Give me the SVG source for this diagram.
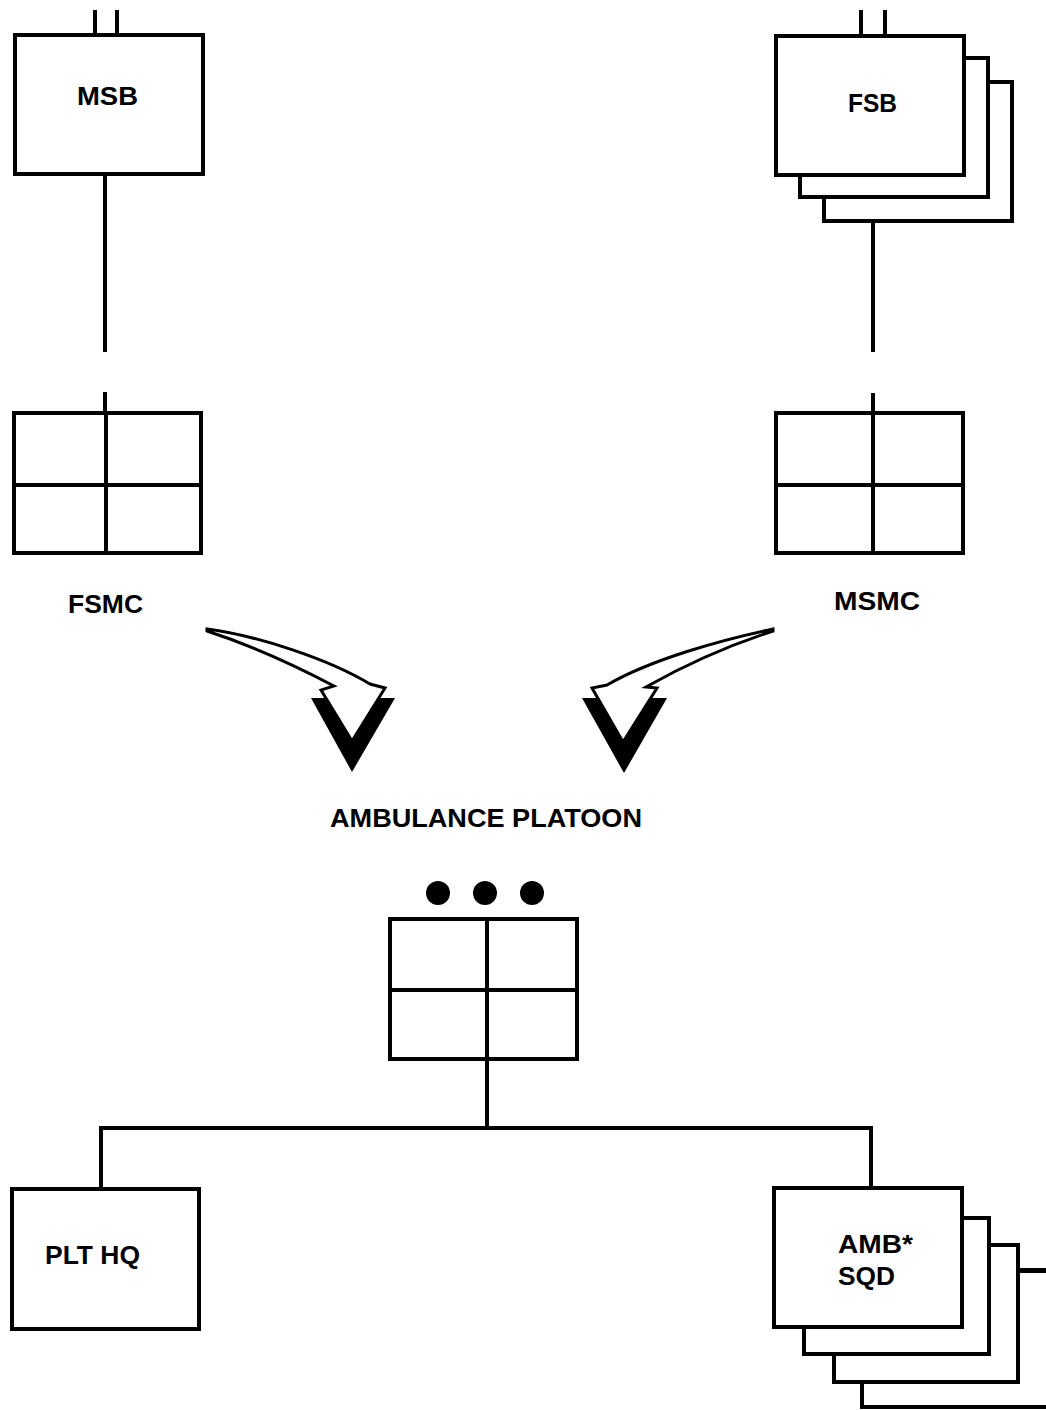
<svg xmlns="http://www.w3.org/2000/svg" width="1046" height="1410" viewBox="0 0 1046 1410">
<style>
.b{fill:#fff;stroke:#000;stroke-width:4}
.l{stroke:#000;stroke-width:4;fill:none}
.t{font-family:"Liberation Sans",Arial,sans-serif;font-weight:bold;font-size:25px;fill:#000}
</style>
<rect width="1046" height="1410" fill="#fff"/>
<g id="connectors">
<path class="l" d="M95,10V35M117,10V35M105,175V352"/>
<path class="l" d="M861,10V35M885,10V35M873,221V352"/>
<path class="l" d="M105,392V412M873,393V412"/>
<path class="l" d="M487,1060V1128M101,1128H871M101,1126V1188M871,1126V1188"/>
</g>
<g id="msb"><rect class="b" x="15" y="35" width="188" height="139"/><text class="t" x="77" y="105" textLength="61" lengthAdjust="spacingAndGlyphs">MSB</text></g>
<g id="fsb">
<rect class="b" x="824" y="82" width="188" height="139"/>
<rect class="b" x="800" y="58" width="188" height="139"/>
<rect class="b" x="776" y="36" width="188" height="139"/>
<text class="t" x="848" y="112" textLength="49" lengthAdjust="spacingAndGlyphs">FSB</text></g>
<g id="fsmc"><rect class="b" x="14" y="413" width="187" height="140"/><path class="l" d="M14,485H201M106,413V553"/><text class="t" x="68" y="613" textLength="75" lengthAdjust="spacingAndGlyphs">FSMC</text></g>
<g id="msmc"><rect class="b" x="776" y="413" width="187" height="140"/><path class="l" d="M776,485H963M873,413V553"/><text class="t" x="834" y="610" textLength="86" lengthAdjust="spacingAndGlyphs">MSMC</text></g>
<g id="arrow-left">
<path d="M311,698H395L352,772Z" fill="#000"/>
<path d="M207,629C260,636 330,660 370,684L385,688L352,741L321,690L334,686C300,668 250,645 207,631Z" fill="#fff" stroke="#000" stroke-width="3" stroke-linejoin="miter"/>
</g>
<g id="arrow-right">
<path d="M582,698H667L624,773Z" fill="#000"/>
<path d="M773,629C720,640 650,660 607,685L592,688L623,742L657,688L646,687C690,662 730,645 773,631Z" fill="#fff" stroke="#000" stroke-width="3" stroke-linejoin="miter"/>
</g>
<text class="t" x="330" y="827" textLength="312" lengthAdjust="spacingAndGlyphs">AMBULANCE PLATOON</text>
<g id="platoon">
<circle cx="438" cy="893" r="12"/><circle cx="485" cy="893" r="12"/><circle cx="532" cy="893" r="12"/>
<rect class="b" x="390" y="919" width="187" height="140"/><path class="l" d="M390,990H577M487,919V1059"/>
</g>
<g id="plthq"><rect class="b" x="12" y="1189" width="187" height="140"/><text class="t" x="45" y="1264" textLength="95" lengthAdjust="spacingAndGlyphs">PLT HQ</text></g>
<g id="ambsqd">
<rect class="b" x="862" y="1271" width="190" height="136"/>
<rect class="b" x="834" y="1245" width="184" height="137"/>
<rect class="b" x="804" y="1218" width="185" height="136"/>
<rect class="b" x="774" y="1188" width="188" height="139"/>
<path class="l" d="M1018,1270H1046"/>
<text class="t" x="838" y="1253" textLength="75" lengthAdjust="spacingAndGlyphs">AMB*</text>
<text class="t" x="838" y="1285" textLength="57" lengthAdjust="spacingAndGlyphs">SQD</text>
</g>
</svg>
